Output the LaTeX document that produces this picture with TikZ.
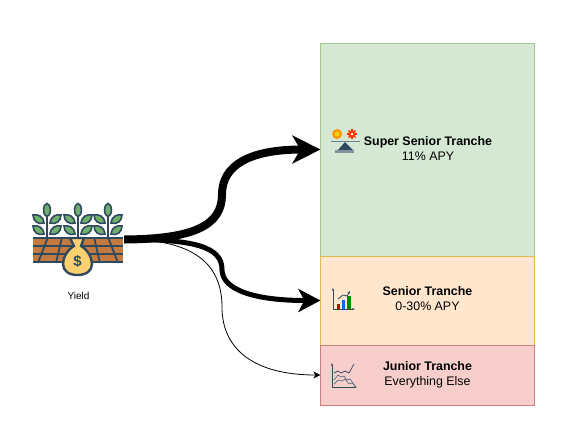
\documentclass[tikz,border=0pt]{standalone}
\usepackage{fontspec}
\setmainfont{Liberation Sans}
\usetikzlibrary{arrows.meta}
\definecolor{slate}{HTML}{2F4A5E}
\definecolor{soil}{HTML}{C47A3F}
\definecolor{leaf}{HTML}{6FB06A}
\definecolor{gold}{HTML}{FBD06F}
\definecolor{superfill}{HTML}{D5E8D4}
\definecolor{superline}{HTML}{A3C98E}
\definecolor{seniorfill}{HTML}{FFE6CC}
\definecolor{seniorline}{HTML}{E5B84A}
\definecolor{juniorfill}{HTML}{F8CECC}
\definecolor{juniorline}{HTML}{C9807C}
\tikzset{
  tranche/.style={draw, rectangle, minimum width=213.6pt, inner sep=0pt, line width=1pt},
  tlabel/.style={inner sep=0pt, align=center, font=\fontsize{12.4}{15}\selectfont},
  tleaf/.style={draw=slate, fill=leaf, line width=1.6pt},
  plant/.pic={
    \draw [slate, line width=2.2pt] (0,34) -- (0,12);
    \draw [tleaf] (0,7) ellipse [x radius=3.4, y radius=6.5];
    \foreach \s in {-1,1} {
      \foreach \c in {16,27} {
        \draw [tleaf] (\s*3,\c+4) .. controls (\s*4,\c-3) and (\s*9,\c-5) .. (\s*14,\c-4)
          .. controls (\s*14,\c+2) and (\s*9,\c+6) .. cycle;
      }
    }
  }
}
\begin{document}
\begin{tikzpicture}[x=1pt,y=-1pt]
  \useasboundingbox (0,0) rectangle (566,432);

  % Tranches
  \node [tranche, fill=superfill, draw=superline, minimum height=213pt] (super) at (427.7,149.5) {};
  \node [tranche, fill=seniorfill, draw=seniorline, minimum height=89pt] (senior) at (427.7,300.5) {};
  \node [tranche, fill=juniorfill, draw=juniorline, minimum height=60pt] (junior) at (427.7,375) {};
  \node [tlabel] (superlabel) at (428,148.5) {\textbf{Super Senior Tranche}\\11\% APY};
  \node [tlabel] (seniorlabel) at (427.5,298.8) {\textbf{Senior Tranche}\\0-30\% APY};
  \node [tlabel] (juniorlabel) at (427.5,375) {\textbf{Junior Tranche}\\Everything Else};

  % Farm icon
  \foreach \x in {47,78,108} {
    \pic at (\x,203) {plant};
  }
  \fill [soil] (33,237) rectangle (123,263);
  \foreach \y in {238,246,254,262} {
    \draw [slate, line width=1.8pt] (33,\y) -- (123,\y);
  }
  \foreach \a/\b in {48/38,62/56,94/100,108/118} {
    \draw [slate, line width=1.8pt] (\a,237) -- (\b,263);
  }
  \draw [slate, fill=gold, line width=2.4pt] (70,238) -- (84,238) -- (81,246)
    .. controls (88,250) and (92,258) .. (92,264)
    .. controls (92,271) and (86,275) .. (77.5,275)
    .. controls (69,275) and (63,271) .. (63,264)
    .. controls (63,258) and (67,250) .. (74,246) -- cycle;
  \node [inner sep=0pt, text=slate, font=\bfseries\fontsize{15}{15}\selectfont] (dollar) at (77.5,261) {\$};
  \node [inner sep=0pt, minimum width=92pt, minimum height=73pt] (farm) at (78,239.5) {};
  \node [inner sep=0pt, font=\fontsize{10}{12}\selectfont] (yield) at (78.5,296) {Yield};

  % Scale icon
  \fill [orange!85!yellow] (337,134) circle (5);
  \fill [yellow!70!orange] (337,134) circle (2.5);
  \foreach \a in {0,45,...,315} {
    \draw [red!65!orange, line width=1.2pt] (352,134) -- ++(\a:5);
  }
  \fill [red!60!orange] (352,134) circle (3.8);
  \fill [white!70!orange] (352,134) circle (1.6);
  \fill [slate!70] (331,140.5) rectangle (360,142);
  \fill [slate] (345,142) -- (353,150) -- (338,150) -- cycle;
  \fill [slate!60] (335,150) rectangle (354,152.5);

  % Chart icons
  \draw [slate, line width=1pt, {Stealth[length=3pt]}-{Stealth[length=3pt]}] (333,288) -- (333,309) -- (355,309);
  \fill [red!75!black] (337,304) rectangle (339.5,309);
  \fill [blue!60!cyan] (342,300) rectangle (345,309);
  \fill [green!55!black] (347,296) rectangle (351,309);
  \draw [slate, line width=.8pt, -{Stealth[length=3pt]}] (338,299) -- (343,295) -- (347,296) -- (350,291);

  \draw [slate, line width=1pt, {Stealth[length=3pt]}-{Stealth[length=3pt]}] (332,363) -- (332,387) -- (357,387);
  \draw [slate, line width=.7pt] (334,373) -- (338,371) -- (341,373) -- (345,371) -- (349,373) -- (354,364);
  \draw [slate!80, line width=.7pt] (334,380) -- (338,375) -- (341,377) -- (344,376) -- (347,380) -- (350,379) -- (355,386);
  \draw [slate!80, line width=.7pt] (334,384) -- (338,380) -- (342,381) -- (345,379) -- (349,384) -- (352,383) -- (355,386);

  % Yield flows
  \draw [line width=8pt, -{Stealth[length=28pt,width=28pt,inset=8pt]}] (farm.east)
    .. controls (195,239) and (222,225) .. (222,194.5)
    .. controls (222,165) and (250,149.5) .. (super.west);
  \draw [line width=5pt, -{Stealth[length=22pt,width=23pt,inset=6pt]}] (farm.east)
    .. controls (195,239) and (222,247) .. (222,269.5)
    .. controls (222,290) and (255,300.5) .. (senior.west);
  \draw [line width=.8pt, -{Stealth[length=7pt,width=7pt,inset=2pt]}] (farm.east)
    .. controls (195,239) and (222,265) .. (222,307)
    .. controls (222,350) and (255,375) .. (junior.west);
\end{tikzpicture}
\end{document}
